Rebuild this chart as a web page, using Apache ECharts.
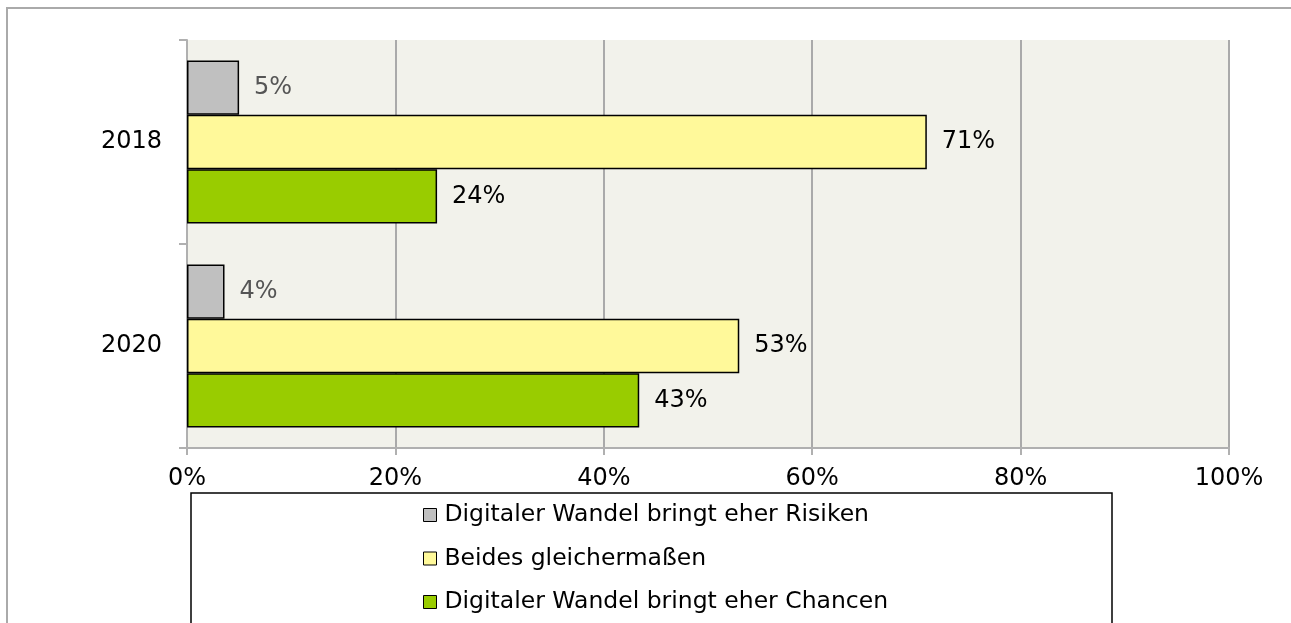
<!DOCTYPE html>
<html>
<head>
<meta charset="utf-8">
<script src="https://cdn.jsdelivr.net/npm/echarts@6/dist/echarts.min.js"></script>
<style>
  html, body { margin: 0; padding: 0; background: #fff; }
  #chart { width: 1291px; height: 623px; }
</style>
</head>
<body>
<div id="chart"></div>
<script>
const years = ['2018', '2020']
const seriesNames = [
    'Digitaler Wandel bringt eher Risiken',
    'Beides gleichermaßen',
    'Digitaler Wandel bringt eher Chancen'
]
const risiken = [5, 3.6]
const beides = [71, 53]
const chancen = [24, 43.4]
const xTicks = [0, 20, 40, 60, 80, 100]

const font = 'DejaVu Sans'
const chart = echarts.init(document.getElementById('chart'))

function barSeries(name, data, color, labelColor) {
    return {
        name: name,
        type: 'bar',
        data: data,
        barGap: '0%',
        barCategoryGap: '20%',
        itemStyle: { color: color, borderColor: '#000', borderWidth: 1.5 },
        label: {
            show: true,
            position: 'right',
            distance: 15,
            color: labelColor,
            fontFamily: font,
            fontSize: 24,
            formatter: p => Math.round(p.value) + '%'
        }
    }
}

let option = {
    animation: false,
    graphic: [
        {
            type: 'rect',
            shape: { x: 7, y: 8, width: 2000, height: 2000 },
            style: { fill: 'none', stroke: '#aaaaaa', lineWidth: 2 },
            silent: true
        },
        {
            type: 'rect',
            shape: { x: 191, y: 493, width: 921, height: 400 },
            style: { fill: '#fff', stroke: '#000', lineWidth: 1.5 },
            z: -1,
            silent: true
        }
    ],
    grid: {
        left: 187,
        right: 62,
        top: 40,
        bottom: 175,
        show: true,
        backgroundColor: '#f2f2eb',
        borderWidth: 0
    },
    legend: {
        data: seriesNames,
        orient: 'vertical',
        left: 423,
        top: 500,
        padding: 0,
        itemWidth: 13,
        itemHeight: 13,
        itemGap: 13.5,
        icon: 'rect',
        itemStyle: { borderColor: '#000', borderWidth: 1 },
        textStyle: {
            fontFamily: font,
            fontSize: 23.5,
            color: '#000',
            lineHeight: 30,
            padding: [0, 0, 0, 3]
        }
    },
    xAxis: {
        type: 'value',
        min: xTicks[0],
        max: xTicks[xTicks.length - 1],
        interval: 20,
        axisLine: { show: true, lineStyle: { color: '#b0b0b0', width: 2 } },
        axisTick: { show: true, length: 7, lineStyle: { color: '#b0b0b0', width: 2 } },
        axisLabel: {
            formatter: '{value}%',
            margin: 19,
            color: '#000',
            fontFamily: font,
            fontSize: 24
        },
        splitLine: { show: true, lineStyle: { color: '#aaaaaa', width: 2 } }
    },
    yAxis: {
        type: 'category',
        data: years,
        inverse: true,
        axisLine: { show: true, lineStyle: { color: '#b0b0b0', width: 2 } },
        axisTick: { show: true, length: 8, lineStyle: { color: '#b0b0b0', width: 2 } },
        axisLabel: {
            margin: 25,
            color: '#000',
            fontFamily: font,
            fontSize: 24
        }
    },
    series: [
        barSeries(seriesNames[0], risiken, '#c0c0c0', '#555555'),
        barSeries(seriesNames[1], beides, '#fff99a', '#000'),
        barSeries(seriesNames[2], chancen, '#99cc00', '#000')
    ]
}

chart.setOption(option)
</script>
</body>
</html>
